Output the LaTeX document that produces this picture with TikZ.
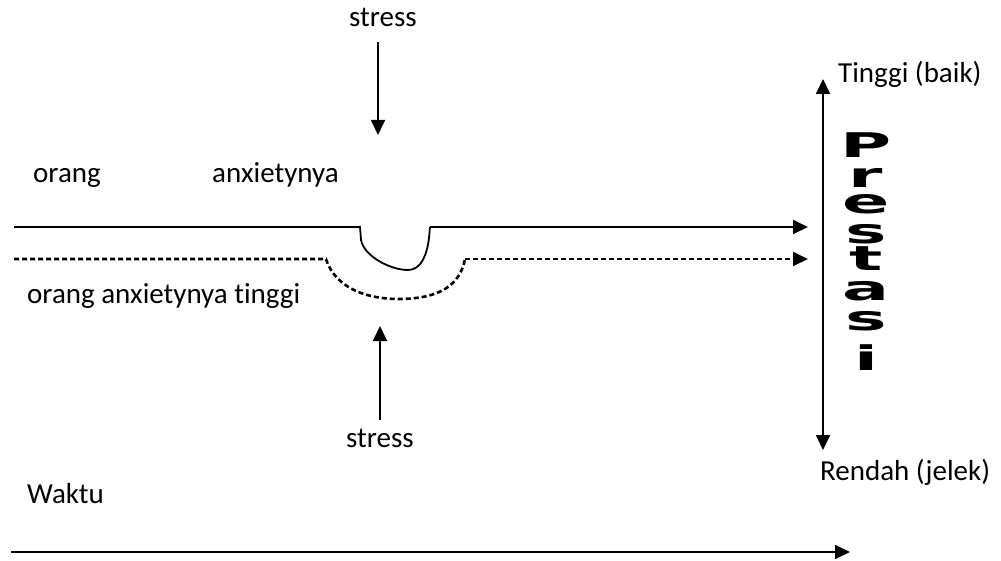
\documentclass[tikz,border=0pt]{standalone}
\usepackage{fontspec}
\setmainfont{Carlito}[Ligatures={NoCommon,NoRare,NoContextual}]
\newfontfamily\prestfont{DejaVu Sans}[BoldFont={DejaVu Sans Bold}]
\usetikzlibrary{arrows.meta}
\begin{document}
\begin{tikzpicture}[x=1pt,y=-1pt,
  lbl/.style={inner sep=0pt,anchor=base west,font=\fontsize{29}{34}\selectfont},
  arr/.style={line width=1.8pt,-{Triangle[length=15pt,width=14pt]}},
  darr/.style={line width=1.8pt,{Triangle[length=15pt,width=14pt]}-{Triangle[length=15pt,width=14pt]}},
  solidpath/.style={line width=1.8pt},
  dashpath/.style={line width=2.6pt,dash pattern=on 5pt off 3pt},
  letters/.style={inner sep=0pt,align=center,anchor=north,font=\prestfont\bfseries\fontsize{34}{30}\selectfont,xscale=2.05}]
\useasboundingbox (0,0) rectangle (1001,561);

% labels
\node[lbl,anchor=base] (stressT) at (383,27) {stress};
\node[lbl,anchor=base] (stressB) at (380,447) {stress};
\node[lbl] (orang) at (33,183) {orang};
\node[lbl] (anx) at (212,183) {anxietynya};
\node[lbl] (tinggiLbl) at (27,303) {orang anxietynya t\kern0pt inggi};
\node[lbl] (high) at (838,83) {Tinggi (baik)};
\node[lbl] (low) at (820,480) {Rendah (jelek)};
\node[lbl] (waktu) at (27,503) {Waktu};

% stress arrows
\coordinate (sTtail) at (378,42);
\coordinate (sThead) at (378,135);
\draw[arr] (sTtail) -- (sThead);
\coordinate (sBtail) at (380,420);
\coordinate (sBhead) at (380,326);
\draw[arr] (sBtail) -- (sBhead);

% solid path (normal person)
\coordinate (s0) at (14,227);
\coordinate (s1) at (360,227);
\coordinate (s2) at (430,227);
\coordinate (s3) at (808,227);
\draw[solidpath] (s0) -- (s1) -- (361,240)
  .. controls (364,256) and (390,270) .. (408,270)
  .. controls (421,270) and (427,255) .. (429,238) -- (s2);
\draw[arr] (s2) -- (s3);

% dashed path (high anxiety)
\coordinate (d0) at (14,259);
\coordinate (d1) at (326,259);
\coordinate (d2) at (465,259);
\coordinate (d3) at (808,259);
\draw[dashpath] (d0) -- (d1)
  .. controls (336,290) and (370,299) .. (398,299)
  .. controls (440,299) and (460,285) .. (d2);
\draw[dashpath,-{Triangle[length=15pt,width=14pt]},line width=1.8pt] (d2) -- (d3);

% performance axis
\coordinate (pTop) at (823,79);
\coordinate (pBot) at (823,450);
\draw[darr] (pBot) -- (pTop);

% time axis
\coordinate (t0) at (11,552);
\coordinate (t1) at (850,552);
\draw[arr] (t0) -- (t1);

% Prestasi vertical letters
\node[letters] (prestasi) at (866,133) {P\\r\\[-4pt]e\\s\\[-3pt]t\\a\\s\\[10pt]i};
\end{tikzpicture}
\end{document}
